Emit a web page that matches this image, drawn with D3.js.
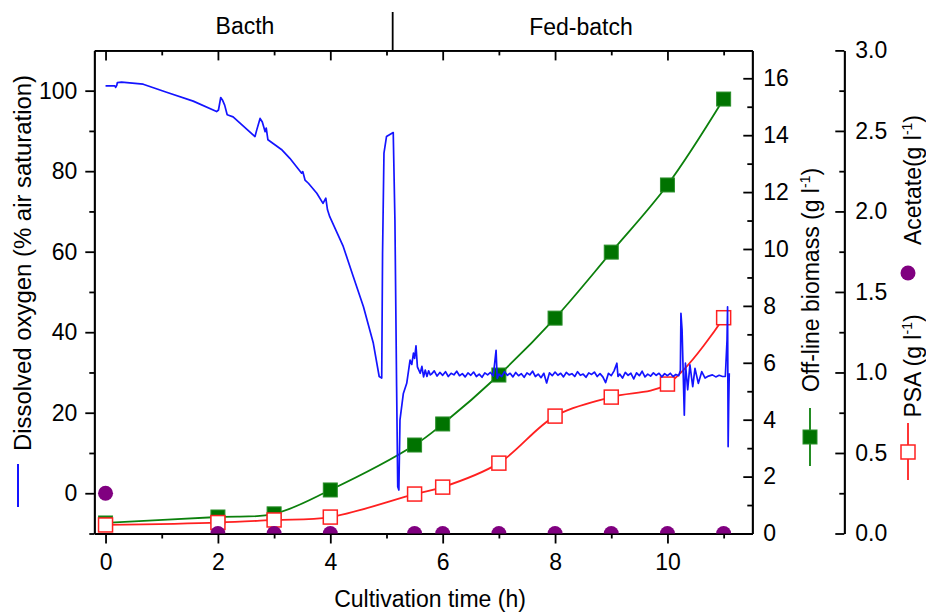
<!DOCTYPE html>
<html><head><meta charset="utf-8">
<script src="https://cdn.jsdelivr.net/npm/d3@7"></script>
<style>
body{margin:0;background:#fff;}
text{font-family:Arial,"Liberation Sans",sans-serif;fill:#000;}
</style>
</head><body>
<svg id="chart" width="926" height="614"></svg>
<script>
// ---------- data ----------
const sampleTimes = [0, 2, 3, 4, 5.5, 6, 7, 8, 9, 10, 11];
const biomass = [0.37, 0.58, 0.69, 1.53, 3.11, 3.85, 5.57, 7.57, 9.89, 12.25, 15.27];
const psa = [0.053, 0.068, 0.084, 0.102, 0.245, 0.288, 0.437, 0.729, 0.847, 0.928, 1.34];
const acetate = [0.25, 0, 0, 0, 0, 0, 0, 0, 0, 0, 0];

// dissolved oxygen trace [time h, % air saturation]
const doTrace = [
 [0,101.2],[0.166,101.2],[0.18,100.8],[0.2,101.3],[0.21,102.0],[0.285,102.1],[0.67,101.6],[1.086,99.6],
 [1.56,97.4],[1.976,94.8],[2.01,95.2],[2.05,98.3],[2.08,97.7],[2.12,96.4],[2.165,94.0],[2.27,93.5],
 [2.66,88.6],[2.69,90.2],[2.75,93.1],[2.79,92.2],[2.84,89.8],[2.86,90.7],[2.89,87.8],[3.13,85.4],
 [3.28,83.2],[3.49,79.5],[3.51,79.9],[3.55,77.8],[3.61,77.0],[3.76,74.5],[3.87,72.0],[3.92,73.3],
 [3.95,70.4],[3.99,68.7],[4.23,61.3],[4.41,53.8],[4.59,46.3],[4.765,37.3],[4.87,29.0],[4.915,28.6],
 [4.93,59.7],[4.955,84.5],[5.0,88.6],[5.12,89.6],[5.15,67.9],[5.18,26.5],[5.2,1.6],[5.22,0.8],
 [5.24,18.2],[5.30,24.8],[5.36,27.3],[5.42,33.1],[5.45,32.0],[5.48,34.8],[5.5,33.5],[5.525,36.6],[5.55,31.4],
 [5.6,29.8],[5.63,31.5],[5.66,28.9],[5.69,30.6],[5.72,29.0],[5.75,30.4],[5.78,29.4],
 [5.80,29.6],[5.85,30.4],[5.90,29.1],[5.95,30.0],[6.00,29.3],[6.05,30.2],[6.10,29.0],[6.15,29.8],
 [6.20,29.4],[6.25,30.3],[6.30,29.2],[6.35,29.7],[6.40,28.9],[6.45,29.9],[6.50,29.3],[6.55,30.1],
 [6.60,29.0],[6.65,29.6],[6.70,28.8],[6.75,29.9],[6.80,29.4],[6.85,30.0],[6.90,29.1],[6.95,35.5],
 [6.97,28.5],[7.00,29.6],[7.05,29.0],[7.10,30.2],[7.15,29.3],[7.20,29.8],[7.25,28.9],[7.30,30.0],
 [7.35,29.2],[7.40,29.7],[7.45,28.8],[7.50,29.9],[7.55,29.4],[7.60,30.3],[7.65,29.0],[7.70,29.6],
 [7.75,28.7],[7.80,29.8],[7.85,27.4],[7.90,29.9],[7.95,29.2],[8.00,30.1],[8.05,29.3],[8.10,29.8],
 [8.15,28.9],[8.20,30.0],[8.25,29.4],[8.30,29.7],[8.35,29.0],[8.40,30.2],[8.45,29.3],[8.50,29.6],
 [8.55,28.8],[8.60,29.9],[8.65,29.5],[8.70,30.1],[8.75,29.0],[8.80,29.7],[8.85,28.9],[8.90,27.5],
 [8.95,29.8],[9.00,29.2],[9.05,30.4],[9.10,32.3],[9.12,29.0],[9.15,29.6],[9.20,28.6],[9.25,30.0],
 [9.30,29.3],[9.35,29.8],[9.40,28.4],[9.45,29.9],[9.50,29.2],[9.55,30.3],[9.60,28.9],[9.65,29.6],
 [9.70,29.1],[9.75,29.9],[9.80,29.3],[9.85,29.8],[9.90,28.9],[9.95,29.7],[10.00,29.2],[10.05,29.8],
 [10.10,29.0],[10.15,29.5],[10.20,29.2],[10.23,30.5],[10.24,44.7],[10.26,40.6],[10.30,19.4],[10.32,32.3],
 [10.36,25.7],[10.40,31.9],[10.45,26.5],[10.49,31.0],[10.55,27.3],[10.61,30.2],[10.67,28.6],[10.73,29.1],
 [10.80,29.4],[10.86,28.9],[10.92,29.3],[10.98,29.0],[11.03,29.0],[11.06,38.0],[11.07,46.3],[11.08,11.6],
 [11.09,22.0],[11.10,29.8]
];

// ticks
const xMajor = [0, 2, 4, 6, 8, 10];
const xMinor = [1, 3, 5, 7, 9, 11];
const doMajor = [0, 20, 40, 60, 80, 100];
const doMinor = [-10, 10, 30, 50, 70, 90];
const bioMajor = [0, 2, 4, 6, 8, 10, 12, 14, 16];
const bioMinor = [1, 3, 5, 7, 9, 11, 13, 15];
const accMajor = [0, 0.5, 1.0, 1.5, 2.0, 2.5, 3.0];
const accMinor = [0.25, 0.75, 1.25, 1.75, 2.25, 2.75];
const phaseLabels = ["Bacth", "Fed-batch"];
const phaseSwitch = 5.11;

// ---------- layout ----------
const L = 94.3, R = 752.3, T = 50.4, B = 533.5, AX3 = 844.3;
const FS = 23;
const svg = d3.select("#chart");
const x = d3.scaleLinear().domain([-0.2, 11.51]).range([L, R]);
const yDO = d3.scaleLinear().domain([-10, 110]).range([B, T]);
const yBio = d3.scaleLinear().domain([0, 16.98]).range([B, T]);
const yAcc = d3.scaleLinear().domain([0, 3]).range([B, T]);

const blue = "#1414ff", green = "#0c800c", red = "#ff2020", purple = "#800080";
const axisW = 1.8;

function styleAxis(g) {
  g.selectAll("path,line").attr("stroke", "#000").attr("stroke-width", axisW);
  g.selectAll("text").attr("font-size", FS).attr("font-family", "Arial, 'Liberation Sans', sans-serif");
}

// bottom
svg.append("g").attr("transform", `translate(0,${B})`)
  .call(d3.axisBottom(x).tickValues(xMajor).tickSize(10).tickSizeOuter(0).tickPadding(10).tickFormat(d3.format("d")))
  .call(styleAxis);
svg.append("g").attr("transform", `translate(0,${B})`)
  .call(d3.axisBottom(x).tickValues(xMinor).tickSize(5).tickSizeOuter(0).tickFormat(""))
  .call(styleAxis);
// top
svg.append("g").attr("transform", `translate(0,${T})`)
  .call(d3.axisTop(x).tickValues(xMajor).tickSize(-10).tickSizeOuter(0).tickFormat(""))
  .call(styleAxis);
svg.append("g").attr("transform", `translate(0,${T})`)
  .call(d3.axisTop(x).tickValues(xMinor).tickSize(-5).tickSizeOuter(0).tickFormat(""))
  .call(styleAxis);
// left DO
svg.append("g").attr("transform", `translate(${L},0)`)
  .call(d3.axisLeft(yDO).tickValues(doMajor).tickSize(9).tickSizeOuter(0).tickPadding(8).tickFormat(d3.format("d")))
  .call(styleAxis);
svg.append("g").attr("transform", `translate(${L},0)`)
  .call(d3.axisLeft(yDO).tickValues(doMinor).tickSize(5).tickSizeOuter(0).tickFormat(""))
  .call(styleAxis);
// right biomass
svg.append("g").attr("transform", `translate(${R},0)`)
  .call(d3.axisRight(yBio).tickValues(bioMajor).tickSize(-9).tickSizeOuter(0).tickPadding(11).tickFormat(d3.format("d")))
  .call(styleAxis);
svg.append("g").attr("transform", `translate(${R},0)`)
  .call(d3.axisRight(yBio).tickValues(bioMinor).tickSize(-5).tickSizeOuter(0).tickFormat(""))
  .call(styleAxis);
// third axis acetate/PSA
svg.append("g").attr("transform", `translate(${AX3},0)`)
  .call(d3.axisRight(yAcc).tickValues(accMajor).tickSize(-9).tickSizeOuter(0).tickPadding(11).tickFormat(d3.format(".1f")))
  .call(styleAxis);
svg.append("g").attr("transform", `translate(${AX3},0)`)
  .call(d3.axisRight(yAcc).tickValues(accMinor).tickSize(-5).tickSizeOuter(0).tickFormat(""))
  .call(styleAxis);

// phase labels
svg.append("line").attr("x1", x(phaseSwitch)).attr("x2", x(phaseSwitch)).attr("y1", 12).attr("y2", T)
  .attr("stroke", "#000").attr("stroke-width", axisW);
svg.append("text").attr("x", 245).attr("y", 34).attr("text-anchor", "middle").attr("font-size", FS).text(phaseLabels[0]);
svg.append("text").attr("x", 581).attr("y", 35).attr("text-anchor", "middle").attr("font-size", FS).text(phaseLabels[1]);

// x title
svg.append("text").attr("x", 430).attr("y", 607).attr("text-anchor", "middle").attr("font-size", FS)
  .text("Cultivation time (h)");

// clip
svg.append("defs").append("clipPath").attr("id", "plotclip")
  .append("rect").attr("x", L).attr("y", T).attr("width", R - L).attr("height", B - T);
const plot = svg.append("g").attr("clip-path", "url(#plotclip)");

const sq = 14;
// biomass
const bioPts = sampleTimes.map((t, i) => [t, biomass[i]]);
plot.append("path").datum(bioPts)
  .attr("d", d3.line().x(d => x(d[0])).y(d => yBio(d[1])).curve(d3.curveCatmullRom.alpha(0.5)))
  .attr("fill", "none").attr("stroke", green).attr("stroke-width", 1.8);
plot.selectAll(".bio").data(bioPts).enter().append("rect")
  .attr("x", d => x(d[0]) - sq / 2).attr("y", d => yBio(d[1]) - sq / 2).attr("width", sq).attr("height", sq)
  .attr("fill", "#007300").attr("stroke", "#2a8f2a").attr("stroke-width", 1);

// PSA
const psaPts = sampleTimes.map((t, i) => [t, psa[i]]);
plot.append("path").datum(psaPts)
  .attr("d", d3.line().x(d => x(d[0])).y(d => yAcc(d[1])).curve(d3.curveCatmullRom.alpha(0.5)))
  .attr("fill", "none").attr("stroke", red).attr("stroke-width", 1.8);
plot.selectAll(".psa").data(psaPts).enter().append("rect")
  .attr("x", d => x(d[0]) - sq / 2).attr("y", d => yAcc(d[1]) - sq / 2).attr("width", sq).attr("height", sq)
  .attr("fill", "#fff").attr("stroke", red).attr("stroke-width", 1.5);

// acetate
plot.selectAll(".acc").data(sampleTimes.map((t, i) => [t, acetate[i]])).enter().append("circle")
  .attr("cx", d => x(d[0])).attr("cy", d => yAcc(d[1])).attr("r", 7.5).attr("fill", purple);

// DO trace
plot.append("path").datum(doTrace)
  .attr("d", d3.line().x(d => x(d[0])).y(d => yDO(d[1])))
  .attr("fill", "none").attr("stroke", blue).attr("stroke-width", 1.7).attr("stroke-linejoin", "round");

// ---------- axis titles with legend keys ----------
// left
svg.append("line").attr("x1", 18).attr("x2", 18).attr("y1", 464).attr("y2", 507).attr("stroke", blue).attr("stroke-width", 2);
svg.append("text").attr("transform", "translate(31,263) rotate(-90)").attr("text-anchor", "middle").attr("font-size", FS)
  .attr("textLength", 376).attr("lengthAdjust", "spacingAndGlyphs")
  .text("Dissolved oxygen (% air saturation)");

function unitTitle(tx, ty, label) {
  const t = svg.append("text").attr("transform", `translate(${tx},${ty}) rotate(-90)`)
    .attr("text-anchor", "middle").attr("font-size", FS);
  t.append("tspan").text(label + "(g l");
  t.append("tspan").attr("font-size", 14).attr("dy", -9).text("-1");
  t.append("tspan").attr("dy", 9).text(")");
}
// biomass key
svg.append("line").attr("x1", 810).attr("x2", 810).attr("y1", 408).attr("y2", 466).attr("stroke", green).attr("stroke-width", 1.8);
svg.append("rect").attr("x", 810 - sq / 2).attr("y", 437 - sq / 2).attr("width", sq).attr("height", sq)
  .attr("fill", "#007300").attr("stroke", "#2a8f2a");
unitTitle(819, 280, "Off-line biomass ");
// acetate key
svg.append("circle").attr("cx", 908).attr("cy", 273).attr("r", 7.5).attr("fill", purple);
unitTitle(921, 180, "Acetate");
// PSA key
svg.append("line").attr("x1", 908).attr("x2", 908).attr("y1", 423).attr("y2", 480).attr("stroke", red).attr("stroke-width", 1.8);
svg.append("rect").attr("x", 908 - sq / 2).attr("y", 452 - sq / 2).attr("width", sq).attr("height", sq)
  .attr("fill", "#fff").attr("stroke", red).attr("stroke-width", 1.5);
unitTitle(921, 366, "PSA ");
</script>
</body></html>
